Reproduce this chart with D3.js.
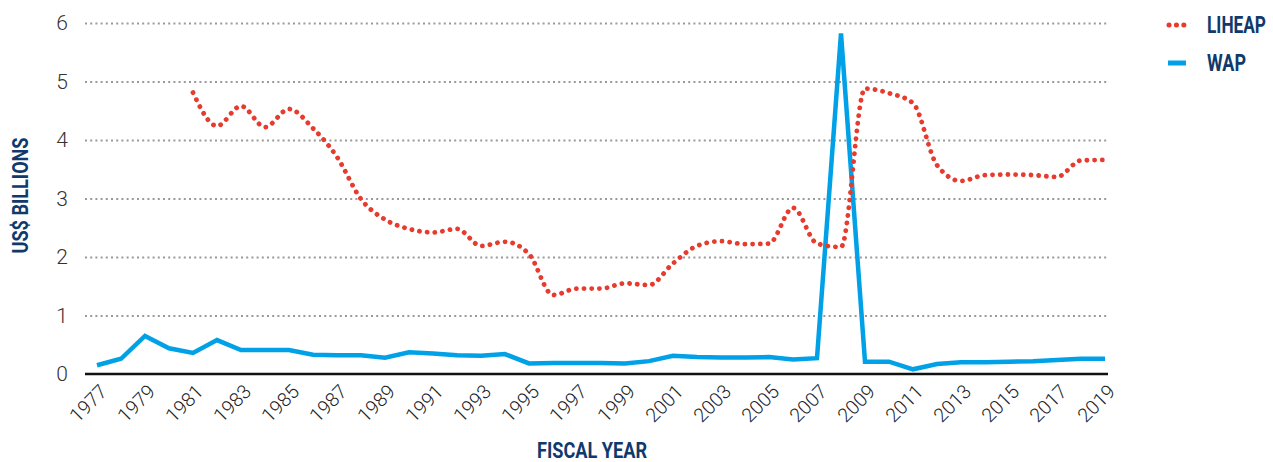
<!DOCTYPE html>
<html>
<head>
<meta charset="utf-8">
<script src="https://cdn.jsdelivr.net/npm/d3@7"></script>
<style>
  body { margin: 0; background: #fff; }
  svg { display: block; }
</style>
</head>
<body>
<svg id="chart"></svg>
<script>
let years = d3.range(1977, 2020)

let liheapYears = d3.range(1981, 2020)
let liheapValues = [4.81, 4.24, 4.58, 4.22, 4.53, 4.2, 3.71, 2.99, 2.64, 2.48,
                    2.42, 2.48, 2.19, 2.26, 2.05, 1.35, 1.46, 1.46, 1.55, 1.52,
                    1.89, 2.19, 2.27, 2.22, 2.23, 2.84, 2.23, 2.17, 4.88, 4.8,
                    4.63, 3.57, 3.3, 3.4, 3.41, 3.4, 3.37, 3.65, 3.66]

let wapValues = [0.15, 0.26, 0.65, 0.44, 0.36, 0.58, 0.41, 0.41, 0.41, 0.33,
                 0.32, 0.32, 0.28, 0.37, 0.35, 0.32, 0.31, 0.34, 0.18, 0.19,
                 0.19, 0.19, 0.18, 0.22, 0.31, 0.29, 0.28, 0.28, 0.29, 0.25,
                 0.27, 5.82, 0.21, 0.21, 0.08, 0.17, 0.2, 0.2, 0.21, 0.22,
                 0.24, 0.26, 0.26]

let yTicks = [0, 1, 2, 3, 4, 5, 6]
let xTicks = d3.range(1977, 2020, 2)
let seriesNames = ['LIHEAP', 'WAP']

let width = 1273
let height = 462
let red = '#e63b2e'
let blue = '#00a1e6'
let navy = '#0f3a6b'

let gridLeft = 85
let gridRight = 1108

let svg = d3.select('#chart')
    .attr('width', width)
    .attr('height', height)

let xScale = d3.scaleLinear()
    .domain([1977, 2019])
    .range([97, 1105])

let yScale = d3.scaleLinear()
    .domain([0, 6])
    .range([374, 23])

// y axis + dotted gridlines
let yAxis = d3.axisLeft(yScale)
    .tickValues(yTicks)
    .tickFormat(d3.format('d'))
    .tickSize(-(gridRight - gridLeft))
    .tickPadding(17)

let yG = svg.append('g')
    .attr('transform', `translate(${gridLeft}, 0)`)
    .call(yAxis)
yG.select('.domain').remove()
yG.selectAll('.tick line')
    .attr('stroke', '#999')
    .attr('stroke-width', 2)
    .attr('stroke-dasharray', '2,3.2')
    .attr('stroke-opacity', d => d === 0 ? 0 : 1)
yG.selectAll('.tick text')
    .attr('font-family', 'Roboto')
    .attr('font-weight', 300)
    .attr('font-size', 21)
    .attr('fill', '#333')

// x axis
let xAxis = d3.axisBottom(xScale)
    .tickValues(xTicks)
    .tickFormat(d3.format('d'))
    .tickSize(0)

let xG = svg.append('g')
    .attr('transform', `translate(0, ${yScale(0)})`)
    .call(xAxis)
xG.select('.domain').remove()
xG.selectAll('.tick text')
    .attr('font-family', 'Roboto')
    .attr('font-weight', 300)
    .attr('font-size', 19.5)
    .attr('fill', '#222')
    .attr('text-anchor', 'end')
    .attr('dy', '0.35em')
    .attr('transform', 'translate(4, 12) rotate(-45)')

svg.append('line')
    .attr('x1', gridLeft)
    .attr('x2', gridRight)
    .attr('y1', yScale(0))
    .attr('y2', yScale(0))
    .attr('stroke', '#111')
    .attr('stroke-width', 2.5)

// lines
let wapLine = d3.line()
    .x((d, i) => xScale(years[i]))
    .y(d => yScale(d))

svg.append('path')
    .datum(wapValues)
    .attr('d', wapLine)
    .attr('fill', 'none')
    .attr('stroke', blue)
    .attr('stroke-width', 4.5)
    .attr('stroke-linejoin', 'miter')

let liheapLine = d3.line()
    .x((d, i) => xScale(liheapYears[i]))
    .y(d => yScale(d))
    .curve(d3.curveMonotoneX)

svg.append('path')
    .datum(liheapValues)
    .attr('d', liheapLine)
    .attr('fill', 'none')
    .attr('stroke', red)
    .attr('stroke-width', 4.8)
    .attr('stroke-linecap', 'round')
    .attr('stroke-dasharray', '0.1,7.6')

// axis titles
svg.append('text')
    .attr('transform', `translate(28, ${yScale(3) - 3}) rotate(-90)`)
    .attr('text-anchor', 'middle')
    .attr('font-family', 'Roboto')
    .attr('font-weight', 700)
    .attr('font-size', 22)
    .attr('fill', navy)
    .attr('textLength', 116)
    .attr('lengthAdjust', 'spacingAndGlyphs')
    .text('US$ BILLIONS')

svg.append('text')
    .attr('x', 537)
    .attr('y', 458)
    .attr('font-family', 'Roboto')
    .attr('font-weight', 700)
    .attr('font-size', 22)
    .attr('fill', navy)
    .attr('textLength', 110)
    .attr('lengthAdjust', 'spacingAndGlyphs')
    .text('FISCAL YEAR')

// legend
let legend = svg.append('g')
    .selectAll('g')
    .data(seriesNames)
    .enter()
    .append('g')
    .attr('transform', (d, i) => `translate(1167, ${25 + i * 38})`)

legend.append('line')
    .attr('x1', d => d === 'LIHEAP' ? 2 : 1)
    .attr('x2', d => d === 'LIHEAP' ? 21 : 19)
    .attr('stroke', d => d === 'LIHEAP' ? red : blue)
    .attr('stroke-width', 5)
    .attr('stroke-linecap', d => d === 'LIHEAP' ? 'round' : 'butt')
    .attr('stroke-dasharray', d => d === 'LIHEAP' ? '0.1,7.3' : null)

legend.append('text')
    .attr('transform', 'translate(40, 0) scale(1, 1.25)')
    .attr('dy', '0.36em')
    .attr('font-family', 'Roboto')
    .attr('font-weight', 700)
    .attr('font-size', 18.5)
    .attr('fill', navy)
    .attr('textLength', d => d === 'LIHEAP' ? 59 : 39)
    .attr('lengthAdjust', 'spacingAndGlyphs')
    .text(d => d)
</script>
</body>
</html>
